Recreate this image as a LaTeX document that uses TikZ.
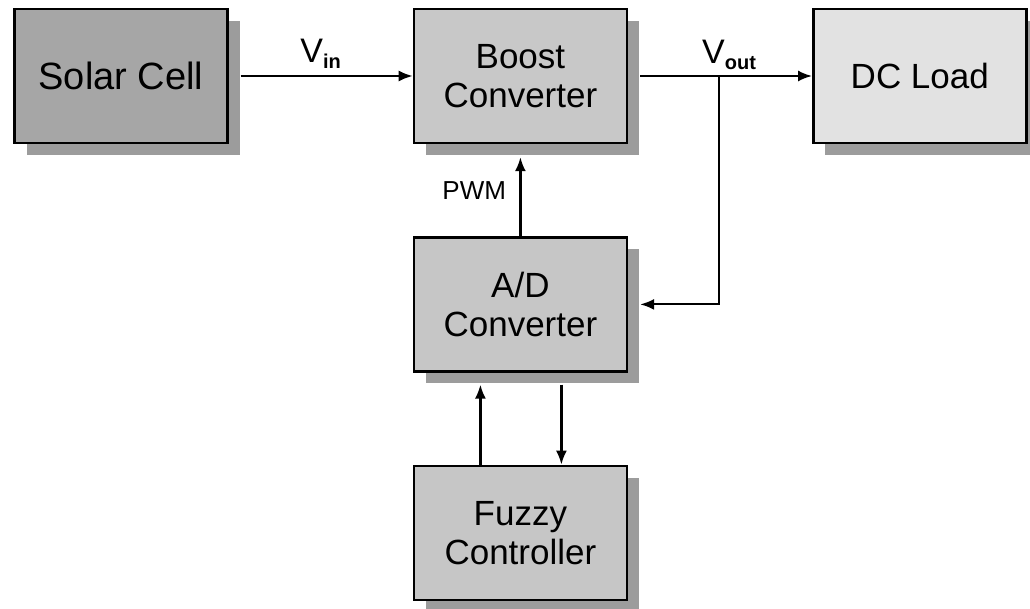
\documentclass[tikz,border=0pt]{standalone}
\usepackage{fontspec}
\setmainfont{Liberation Sans}
\usetikzlibrary{arrows.meta,positioning,shadows}
\definecolor{CellGray}{HTML}{A6A6A6}
\definecolor{BoostGray}{HTML}{C8C8C8}
\definecolor{LoadGray}{HTML}{E2E2E2}
\definecolor{CtrlGray}{HTML}{C6C6C6}
\definecolor{ShadeGray}{HTML}{9C9C9C}
\tikzset{
  sig/.style={-{Latex[length=14pt,width=11pt]}, line width=2.2pt, draw=black},
  block/.style={draw=black, line width=2.4pt, minimum width=213pt, minimum height=134pt,
                align=center, inner sep=4pt, font=\fontsize{35}{39}\selectfont,
                drop shadow={shadow xshift=12pt, shadow yshift=-12pt, fill=ShadeGray, opacity=1}},
  cell/.style={block, fill=CellGray, font=\fontsize{38}{40}\selectfont},
  boost/.style={block, fill=BoostGray},
  load/.style={block, fill=LoadGray},
  ctrl/.style={block, fill=CtrlGray},
  lbl/.style={inner sep=2pt, font=\fontsize{34}{34}\selectfont},
}
\newcommand{\sublbl}[1]{\raisebox{-0.35ex}{\fontsize{20}{20}\selectfont\bfseries #1}}

\begin{document}
\begin{tikzpicture}[x=1pt, y=-1pt, node distance=92pt and 184pt]
    \useasboundingbox (0,0) rectangle (1030,609);
    \node[cell] (solar) at (121,76) {Solar Cell};
    \node[boost, right=of solar] (boost) {Boost\\Converter};
    \node[load, right=of boost] (load) {DC Load};
    \node[ctrl, below=of boost] (adc) {A/D\\Converter};
    \node[ctrl, below=of adc] (fuzzy) {Fuzzy\\Controller};
    \coordinate (branch) at ([xshift=91pt]boost.east);
    % power path
    \draw[sig, shorten <=12pt] (solar) -- node[lbl, midway, above=4pt] {V\sublbl{in}} (boost);
    \draw[sig, shorten <=12pt] (boost) -- (load);
    \node[lbl, above=4pt of branch, xshift=10pt] (vout) {V\sublbl{out}};
    % feedback
    \draw[sig, shorten >=12pt] (branch) |- (adc.east);
    \draw[sig, shorten >=13pt] (adc.north) -- node[midway, left=10pt, font=\fontsize{26}{26}\selectfont] (pwm) {PWM} (boost.south);
    \draw[sig, shorten <=12pt] ([xshift=41pt]adc.south) -- ([xshift=41pt]fuzzy.north);
    \draw[sig, shorten >=12pt] ([xshift=-40pt]fuzzy.north) -- ([xshift=-40pt]adc.south);
  \end{tikzpicture}
\end{document}
